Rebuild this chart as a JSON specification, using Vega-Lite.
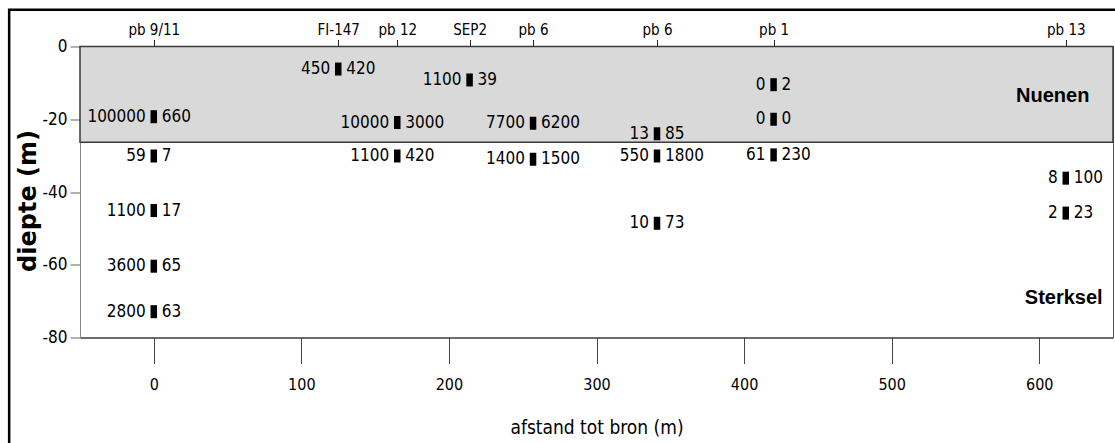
{
  "$schema": "https://vega.github.io/schema/vega-lite/v6.json",
  "width": 1033,
  "height": 291,
  "autosize": {"type": "none"},
  "padding": {"left": 80, "top": 46.5, "right": 2, "bottom": 105},
  "background": "white",
  "config": {
    "view": {"stroke": "#555555", "strokeWidth": 1},
    "font": "DejaVu Sans Condensed, Liberation Sans Narrow, sans-serif"
  },
  "datasets": {
    "monsters": [
      {"x": 0, "diepte": -19.3, "links": "100000", "rechts": "660"},
      {"x": 0, "diepte": -30.1, "links": "59", "rechts": "7"},
      {"x": 0, "diepte": -45.1, "links": "1100", "rechts": "17"},
      {"x": 0, "diepte": -60.4, "links": "3600", "rechts": "65"},
      {"x": 0, "diepte": -72.9, "links": "2800", "rechts": "63"},
      {"x": 125, "diepte": -6.2, "links": "450", "rechts": "420"},
      {"x": 165, "diepte": -20.9, "links": "10000", "rechts": "3000"},
      {"x": 165, "diepte": -30.1, "links": "1100", "rechts": "420"},
      {"x": 214, "diepte": -9.2, "links": "1100", "rechts": "39"},
      {"x": 257, "diepte": -21.1, "links": "7700", "rechts": "6200"},
      {"x": 257, "diepte": -31.0, "links": "1400", "rechts": "1500"},
      {"x": 341, "diepte": -24.0, "links": "13", "rechts": "85"},
      {"x": 341, "diepte": -30.1, "links": "550", "rechts": "1800"},
      {"x": 341, "diepte": -48.6, "links": "10", "rechts": "73"},
      {"x": 420, "diepte": -10.5, "links": "0", "rechts": "2"},
      {"x": 420, "diepte": -20.0, "links": "0", "rechts": "0"},
      {"x": 420, "diepte": -29.8, "links": "61", "rechts": "230"},
      {"x": 618, "diepte": -36.2, "links": "8", "rechts": "100"},
      {"x": 618, "diepte": -45.8, "links": "2", "rechts": "23"}
    ],
    "lagen": [
      {"formatie": "Nuenen", "x1": -50, "x2": 650, "boven": 0, "onder": -26.3}
    ],
    "lagenlabels": [
      {"formatie": "Nuenen", "x": 634, "diepte": -13.6},
      {"formatie": "Sterksel", "x": 643, "diepte": -69.2}
    ],
    "kader": [
      {"links": -98, "rechts": 720, "boven": 10.1, "onder": -140}
    ]
  },
  "resolve": {"axis": {"x": "independent"}},
  "layer": [
    {
      "data": {"name": "kader"},
      "mark": {"type": "rect", "fill": "transparent", "stroke": "black", "strokeWidth": 2.5},
      "encoding": {
        "x": {"field": "links", "type": "quantitative", "scale": {"domain": [-50, 650], "nice": false, "zero": false}, "axis": null},
        "x2": {"field": "rechts"},
        "y": {"field": "boven", "type": "quantitative", "scale": {"domain": [-80, 0], "nice": false, "zero": false}},
        "y2": {"field": "onder"}
      }
    },
    {
      "data": {"name": "lagen"},
      "mark": {"type": "rect", "fill": "#d9d9d9", "stroke": "#3a3a3a", "strokeWidth": 1.5},
      "encoding": {
        "x": {"field": "x1", "type": "quantitative", "scale": {"domain": [-50, 650], "nice": false, "zero": false}, "axis": null},
        "x2": {"field": "x2"},
        "y": {"field": "boven", "type": "quantitative", "scale": {"domain": [-80, 0], "nice": false, "zero": false}},
        "y2": {"field": "onder"}
      }
    },
    {
      "data": {"name": "monsters"},
      "mark": {"type": "point", "shape": "M-0.5,-1H0.5V1H-0.5Z", "filled": true, "color": "black", "size": 169, "opacity": 1},
      "encoding": {
        "x": {
          "field": "x", "type": "quantitative",
          "scale": {"domain": [-50, 650], "nice": false, "zero": false},
          "axis": {
            "orient": "bottom",
            "values": [0, 100, 200, 300, 400, 500, 600],
            "grid": false,
            "domainColor": "#333333",
            "tickColor": "#444444",
            "tickSize": 26,
            "labelFontSize": 16,
            "labelColor": "black",
            "labelPadding": 13,
            "title": "afstand tot bron (m)",
            "titleFontSize": 19,
            "titleFontWeight": "normal",
            "titleColor": "black",
            "titleY": 90,
            "titleBaseline": "middle"
          }
        },
        "y": {
          "field": "diepte", "type": "quantitative",
          "scale": {"domain": [-80, 0], "nice": false, "zero": false},
          "axis": {
            "values": [0, -20, -40, -60, -80],
            "grid": false,
            "domainColor": "#888888",
            "tickColor": "#666666",
            "tickSize": 10,
            "labelFontSize": 17,
            "labelColor": "black",
            "labelPadding": 3,
            "labelExpr": "'' + datum.value",
            "title": "diepte (m)",
            "titleFont": "DejaVu Sans",
            "titleFontWeight": "bold",
            "titleFontSize": 24,
            "titleColor": "black",
            "titleAngle": 270,
            "titleX": -52,
            "titleY": 154,
            "titleAlign": "center",
            "titleBaseline": "middle"
          }
        }
      }
    },
    {
      "data": {"name": "monsters"},
      "mark": {"type": "text", "align": "right", "baseline": "middle", "dx": -8, "fontSize": 17, "color": "black"},
      "encoding": {
        "x": {
          "field": "x", "type": "quantitative",
          "scale": {"domain": [-50, 650], "nice": false, "zero": false},
          "axis": {
            "orient": "top",
            "values": [0, 125, 165, 214, 257, 341, 420, 618],
            "labelExpr": "datum.value == 0 ? 'pb 9/11' : datum.value == 125 ? 'FI-147' : datum.value == 165 ? 'pb 12' : datum.value == 214 ? 'SEP2' : datum.value == 257 ? 'pb 6' : datum.value == 341 ? 'pb 6' : datum.value == 420 ? 'pb 1' : 'pb 13'",
            "grid": false,
            "domain": false,
            "offset": -6,
            "tickSize": 13,
            "tickColor": "#222222",
            "labelFontSize": 15,
            "labelColor": "black",
            "labelPadding": 2,
            "labelOverlap": false,
            "title": null
          }
        },
        "y": {"field": "diepte", "type": "quantitative", "scale": {"domain": [-80, 0], "nice": false, "zero": false}},
        "text": {"field": "links"}
      }
    },
    {
      "data": {"name": "monsters"},
      "mark": {"type": "text", "align": "left", "baseline": "middle", "dx": 8, "fontSize": 17, "color": "black"},
      "encoding": {
        "x": {"field": "x", "type": "quantitative", "scale": {"domain": [-50, 650], "nice": false, "zero": false}, "axis": null},
        "y": {"field": "diepte", "type": "quantitative", "scale": {"domain": [-80, 0], "nice": false, "zero": false}},
        "text": {"field": "rechts"}
      }
    },
    {
      "data": {"name": "lagenlabels"},
      "mark": {"type": "text", "align": "right", "baseline": "middle", "font": "Liberation Sans, Arial, sans-serif", "fontWeight": "bold", "fontSize": 20, "color": "black"},
      "encoding": {
        "x": {"field": "x", "type": "quantitative", "scale": {"domain": [-50, 650], "nice": false, "zero": false}, "axis": null},
        "y": {"field": "diepte", "type": "quantitative", "scale": {"domain": [-80, 0], "nice": false, "zero": false}},
        "text": {"field": "formatie"}
      }
    }
  ]
}
